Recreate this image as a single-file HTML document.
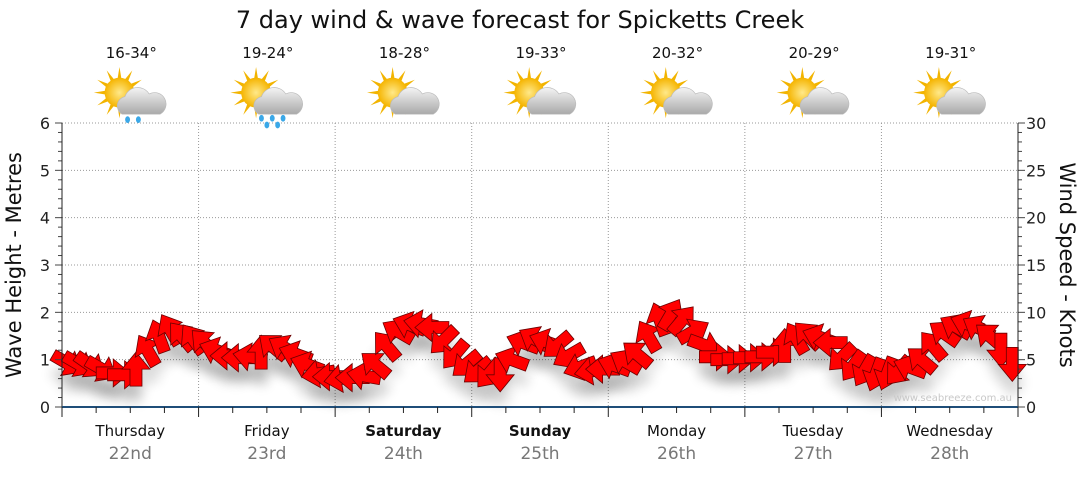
<!DOCTYPE html>
<html><head><meta charset="utf-8"><style>
body{margin:0;background:#fff;width:1080px;height:475px;overflow:hidden;font-family:"Liberation Sans","DejaVu Sans",sans-serif}
svg text{font-family:"DejaVu Sans","Liberation Sans",sans-serif}
</style></head><body>
<svg id="chart" width="1080" height="475" xmlns="http://www.w3.org/2000/svg">
<defs>
<filter id="sh" x="-50%" y="-50%" width="200%" height="250%"><feGaussianBlur stdDeviation="6"/></filter>
<radialGradient id="sun" cx="50%" cy="50%" r="50%"><stop offset="0" stop-color="#ffe98a"/><stop offset="1" stop-color="#f5b400"/></radialGradient>
<linearGradient id="cloud" x1="0" y1="0" x2="0" y2="1"><stop offset="0" stop-color="#f4f4f4"/><stop offset="1" stop-color="#a9a9a9"/></linearGradient>
</defs>
<text x="520" y="28" font-size="24" text-anchor="middle" fill="#111">7 day wind &amp; wave forecast for Spicketts Creek</text>
<g id="grid"></g>
<g id="shadows"></g>
<g id="arrows"></g>
<g id="axes"></g>
<text x="1012" y="401" font-size="10" text-anchor="end" fill="#c8c8c8">www.seabreeze.com.au</text>
<text transform="translate(21,265) rotate(-90)" font-size="21" text-anchor="middle" fill="#111">Wave Height - Metres</text>
<text transform="translate(1060,265) rotate(90)" font-size="21" text-anchor="middle" fill="#111">Wind Speed - Knots</text>
</svg>
<script>
const days=["Thursday","Friday","Saturday","Sunday","Monday","Tuesday","Wednesday"];
const dates=["22nd","23rd","24th","25th","26th","27th","28th"];
const boldDays=[false,false,true,true,false,false,false];
const temps=["16-34°","19-24°","18-28°","19-33°","20-32°","20-29°","19-31°"];
const rain=[1,2,0,0,0,0,0];
const waveTicks=[0,1,2,3,4,5,6];
const windTicks=[0,5,10,15,20,25,30];
const windSpeed=[4.6,4.5,4.4,4.0,3.6,3.4,4.0,6.0,7.5,8.2,7.5,7.2,
6.8,6.0,5.4,5.2,5.3,5.8,6.4,6.3,5.6,4.5,3.5,3.2,
3.0,3.1,3.3,4.5,6.5,8.0,8.7,8.8,8.4,7.0,5.5,4.5,
3.8,3.5,3.4,5.0,6.8,7.2,6.9,6.5,5.4,4.2,3.8,4.0,
4.4,4.8,5.6,7.5,9.3,9.8,9.2,8.0,6.5,5.3,5.0,5.1,
5.2,5.3,5.8,6.5,7.3,7.6,7.4,6.8,5.2,4.3,3.8,3.4,
3.5,3.8,4.2,5.0,6.5,7.8,8.5,8.8,8.4,7.5,6.0,4.5];
const windDir=[30,30,35,30,0,0,270,240,250,240,230,235,
225,200,180,180,190,270,220,210,200,200,170,180,
170,180,190,220,230,210,200,190,180,135,130,140,
140,130,90,200,200,210,200,140,150,160,170,180,
200,210,220,240,250,300,310,330,20,0,0,0,
0,0,0,270,240,225,200,180,135,125,120,110,
110,130,200,220,230,215,210,200,210,220,90,90];
const NS="http://www.w3.org/2000/svg";
const X0=62,X1=1018,Y0=407,Y1=123;
const xDay=d=>X0+d*(X1-X0)/7;
const xHour=h=>X0+h*(X1-X0)/168;
const yWave=m=>Y0-m*(Y0-Y1)/6;
const yWind=k=>Y0-k*(Y0-Y1)/30;
function mk(tag,attrs,parent){const e=document.createElementNS(NS,tag);for(const k in attrs)e.setAttribute(k,attrs[k]);parent.appendChild(e);return e;}
const grid=document.getElementById('grid'),axes=document.getElementById('axes'),svg=document.getElementById('chart');
waveTicks.forEach(m=>{if(m>0){const l=mk('line',{x1:X0,x2:X1,y1:yWave(m),y2:yWave(m),stroke:'#999','stroke-dasharray':'1,2'},grid);}
const t=mk('text',{x:50,y:yWave(m)+6,'font-size':16,'text-anchor':'end',fill:'#222'},axes);t.textContent=m;});
windTicks.forEach(k=>{const t=mk('text',{x:1026,y:yWind(k)+6,'font-size':16,fill:'#222'},axes);t.textContent=k;});
for(let i=0;i<=30;i++){const w=i%5==0?7:4;mk('line',{x1:X0-w,x2:X0,y1:yWind(i),y2:yWind(i),stroke:'#444'},axes);mk('line',{x1:X1,x2:X1+w,y1:yWind(i),y2:yWind(i),stroke:'#444'},axes);}
mk('line',{x1:X0,x2:X0,y1:Y1,y2:Y0,stroke:'#222'},axes);mk('line',{x1:X1,x2:X1,y1:Y1,y2:Y0,stroke:'#222'},axes);
const xa=mk('line',{x1:X0,x2:X1,y1:Y0,y2:Y0,stroke:'#1f4e79','stroke-width':2},axes);

for(let h=0;h<=168;h+=6){const big=h%24==0;mk('line',{x1:xHour(h),x2:xHour(h),y1:Y0,y2:Y0+(big?10:6),stroke:'#222'},axes);}
days.forEach((d,i)=>{
 if(i>0){const l=mk('line',{x1:xDay(i),x2:xDay(i),y1:Y1,y2:Y0,stroke:'#999','stroke-dasharray':'1,2'},grid);}
 const cx=(xDay(i)+xDay(i+1))/2;
 const t=mk('text',{x:cx,y:436,'font-size':15,'text-anchor':'middle',fill:'#111','font-weight':boldDays[i]?'bold':'normal'},axes);t.textContent=d;
 
 const t2=mk('text',{x:cx,y:459,'font-size':17,'text-anchor':'middle',fill:'#777'},axes);t2.textContent=dates[i];
 
 const t3=mk('text',{x:cx+1,y:58,'font-size':15,'text-anchor':'middle',fill:'#111'},svg);t3.textContent=temps[i];
 
 const g=mk('g',{transform:`translate(${cx},98) scale(1.35)`},svg);
 
 for(let a=0;a<360;a+=30){const r=a*Math.PI/180;mk('polygon',{points:`${-8+Math.cos(r)*19},${-4+Math.sin(r)*19} ${-8+Math.cos(r+0.15)*10},${-4+Math.sin(r+0.15)*10} ${-8+Math.cos(r-0.15)*10},${-4+Math.sin(r-0.15)*10}`,fill:'#f2b400'},g);}
 mk('circle',{cx:-8,cy:-4,r:11,fill:'url(#sun)'},g);
 mk('path',{d:'M-6,12 a7,7 0 0 1 2,-13 a10,10 0 0 1 18,-2 a8,8 0 0 1 8,15 z',fill:'url(#cloud)',stroke:'#bbb','stroke-width':0.5},g);
 const drops=rain[i]==1?[[-2,16],[6,16]]:rain[i]==2?[[-4,15],[4,15],[12,15],[0,20],[8,20]]:[];
 drops.forEach(p=>mk('ellipse',{cx:p[0],cy:p[1],rx:1.8,ry:2.5,fill:'#3aa8e8'},g));
});
const sh=document.getElementById('shadows'),ar=document.getElementById('arrows');
const shape="M-17,-6 L0,-6 L0,-14 L17,0 L0,14 L0,6 L-17,6 Z";
windSpeed.forEach((k,i)=>{
 const x=xHour(i*2+1),y=yWind(k);
 mk('path',{d:shape,transform:`translate(${x},${y+16}) rotate(${windDir[i]})`,fill:'#000',opacity:0.16,filter:'url(#sh)'},sh);
 const p=mk('path',{d:shape,transform:`translate(${x},${y}) rotate(${windDir[i]})`,fill:'#ff0000',stroke:'#6b0000','stroke-width':0.8},ar);
 
 
});
</script>
</body></html>
